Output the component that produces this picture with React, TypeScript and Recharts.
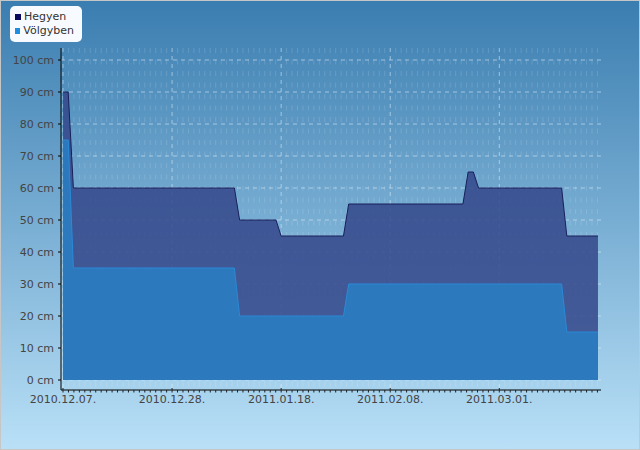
import { Area, AreaChart, CartesianGrid, Legend, XAxis, YAxis } from "recharts";

// measurement dates and snow depth (cm)
const dates = [
  "2010-12-07", "2010-12-08", "2010-12-09", "2011-01-09", "2011-01-10", "2011-01-17",
  "2011-01-18", "2011-01-30", "2011-01-31", "2011-02-22", "2011-02-23", "2011-02-24",
  "2011-02-25", "2011-03-13", "2011-03-14", "2011-03-20",
];
const hegyen = [90, 90, 60, 60, 50, 50, 45, 45, 55, 55, 65, 65, 60, 60, 45, 45];
const volgyben = [75, 75, 35, 35, 20, 20, 20, 20, 30, 30, 30, 30, 30, 30, 15, 15];

const majorDates = ["2010-12-07", "2010-12-28", "2011-01-18", "2011-02-08", "2011-03-01"];
const yTicks = [0, 10, 20, 30, 40, 50, 60, 70, 80, 90, 100];

const DAY = 86400000;
const start = Date.parse(dates[0]);
const toDay = (d: string) => (Date.parse(d) - start) / DAY;

const data = dates.map((d, i) => ({ day: toDay(d), hegyen: hegyen[i], volgyben: volgyben[i] }));

const majorDays = majorDates.map(toDay);
const majorStep = majorDays[1] - majorDays[0];
const minorPerMajor = 20;
const minorTicks: number[] = [];
for (let k = 0; (k * majorStep) / minorPerMajor <= 103.2; k++) {
  minorTicks.push((k * majorStep) / minorPerMajor);
}
const isMajor = (v: number) => majorDays.some((m) => Math.abs(m - v) < 1e-6);

const pad = (n: number) => String(n).padStart(2, "0");
const fmtDate = (v: number) => {
  const d = new Date(start + Math.round(v) * DAY);
  return `${d.getUTCFullYear()}.${pad(d.getUTCMonth() + 1)}.${pad(d.getUTCDate())}.`;
};

const XTick = (props: any) => {
  const { x, y, payload } = props;
  const major = isMajor(payload.value);
  return (
    <g>
      <line x1={x} x2={x} y1={major ? y - 2 : y} y2={y + 2.5} stroke="#222" strokeWidth={1} />
      {major && (
        <text x={x} y={y + 13} textAnchor="middle" fontSize={11} fill="#444">
          {fmtDate(payload.value)}
        </text>
      )}
    </g>
  );
};

const gridMajor = { stroke: "#e2f0fa", strokeOpacity: 0.55, strokeDasharray: "4 4" };
const gridMinor = { stroke: "#ffffff", strokeOpacity: 0.14, strokeDasharray: "5 6.5" };

const legendItems = [
  { name: "Hegyen", color: "#0b0b5e" },
  { name: "Völgyben", color: "#1e8fe0" },
];

const LegendBox = () => (
  <div
    style={{
      background: "#f7fbff",
      borderRadius: 5,
      padding: "4px 8px 4px 5px",
      width: 59,
      fontSize: 11,
      color: "#333",
      lineHeight: "14px",
    }}
  >
    {legendItems.map((it) => (
      <div key={it.name} style={{ display: "flex", alignItems: "center" }}>
        <span style={{ width: 6, height: 6, background: it.color, marginRight: 3, display: "inline-block" }} />
        {it.name}
      </div>
    ))}
  </div>
);

export default function App() {
  return (
    <div
      style={{
        position: "fixed",
        left: 0,
        top: 0,
        width: 640,
        height: 450,
        background: "linear-gradient(#3a7db0, #b9e0f7)",
        boxShadow: "inset 0 0 0 1px #c6c6c6",
        fontFamily: "'DejaVu Sans', sans-serif",
      }}
    >
      <AreaChart width={640} height={450} data={data} margin={{ top: 48, right: 39, bottom: 0, left: 0 }}>
        <CartesianGrid
          stroke="none"
          horizontal={(p: any) =>
            Math.abs(p.y1 - p.y) < 1 || Math.abs(p.y1 - (p.y + p.height)) < 1 ? (
              <g key={p.key} />
            ) : (
              <line key={p.key} x1={p.x1} x2={p.x2} y1={p.y1} y2={p.y2} {...gridMajor} />
            )
          }
          vertical={(p: any) =>
            Math.abs(p.x1 - (p.x + p.width)) < 1 ? (
              <g key={p.key} />
            ) : (
              <line
                key={p.key}
                x1={p.x1}
                x2={p.x2}
                y1={p.y1}
                y2={p.y2}
                {...(p.index % minorPerMajor === 0 ? gridMajor : gridMinor)}
              />
            )
          }
        />
        <XAxis
          dataKey="day"
          type="number"
          domain={[-0.385, 103.58]}
          ticks={minorTicks}
          interval={0}
          tick={<XTick />}
          tickLine={false}
          tickSize={0}
          tickMargin={0}
          height={60}
          axisLine={{ stroke: "#000" }}
        />
        <YAxis
          type="number"
          domain={[-3.125, 103.75]}
          ticks={yTicks}
          interval={0}
          width={61}
          tickSize={3}
          tickMargin={4}
          tickFormatter={(v) => `${v} cm`}
          tick={{ fontSize: 11, fill: "#444" }}
          tickLine={{ stroke: "#000" }}
          axisLine={{ stroke: "#000" }}
        />
        <Area
          type="linear"
          dataKey="hegyen"
          name="Hegyen"
          stroke="#18205a"
          strokeWidth={1}
          fill="#34478a"
          fillOpacity={0.85}
          isAnimationActive={false}
        />
        <Area
          type="linear"
          dataKey="volgyben"
          name="Völgyben"
          stroke="#2a8ad6"
          strokeWidth={1}
          fill="#2b7cc0"
          fillOpacity={0.92}
          isAnimationActive={false}
        />
        <Legend
          layout="vertical"
          align="center"
          verticalAlign="middle"
          content={<LegendBox />}
          wrapperStyle={{ top: 6, left: 10, width: 72, height: 37 }}
        />
      </AreaChart>
    </div>
  );
}
